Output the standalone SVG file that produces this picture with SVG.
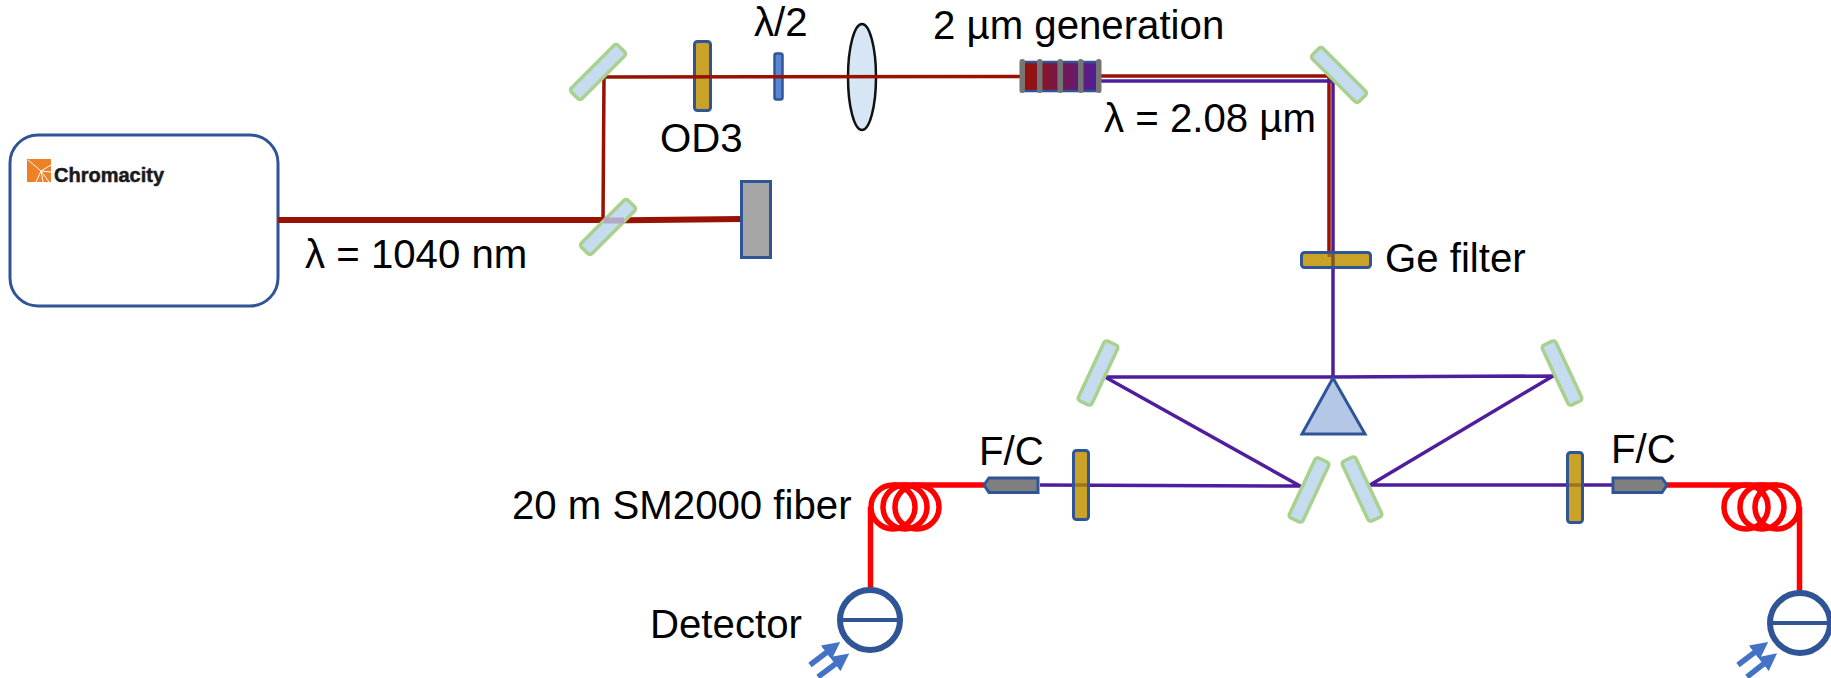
<svg xmlns="http://www.w3.org/2000/svg" width="1831" height="678" viewBox="0 0 1831 678">
<style>
text{font-family:"Liberation Sans",Arial,sans-serif;font-size:40.2px;fill:#000}
.mirror{fill:#C5DCF0;stroke:#A9D18E;stroke-width:3.500}
.filter{fill:#C9A227;stroke:#2F5597;stroke-width:3}
.band{fill:#9A7422}
.coll{fill:#7F7F7F;stroke:#2F5597;stroke-width:3}
.red{fill:none;stroke:#991100;stroke-width:3.500}
.pur{fill:none;stroke:#501E9C;stroke-width:3.500}
.fib{fill:none;stroke:#FF0000;stroke-width:5.500}
.det{fill:#fff;stroke:#2F5597;stroke-width:6}
.ph{stroke:#4472C4;stroke-width:5.500;marker-end:url(#ah)}
</style>
<defs>
<linearGradient id="g"><stop offset="0" stop-color="#9B1000"/><stop offset="1" stop-color="#501E9C"/></linearGradient>
<marker id="ah" viewBox="0 0 10 10" refX="2" refY="5" markerWidth="3.200" markerHeight="3.400" orient="auto"><path d="M0 0L10 5L0 10Z" fill="#4472C4"/></marker>
</defs>
<g id="laser">
<rect x="10" y="135" width="268" height="171" rx="28" fill="#fff" stroke="#2F5597" stroke-width="3"/>
<rect x="27" y="159" width="24" height="23" fill="#EE8027"/>
<path d="M28 160L41 171M51 165L41 171M51 172L41 171M49 182L41 171M43 182L41 171M36 182L41 171" stroke="#fff" stroke-width="1" fill="none"/>
<text x="54" y="182" style="font-size:20px;font-weight:bold;fill:#1a1a1a;stroke:#1a1a1a;stroke-width:.5">Chromacity</text>
</g>
<g id="od3"><rect class="filter" x="694.500" y="41.500" width="16" height="69" rx="3"/></g>
<g id="waveplate"><rect x="774.500" y="53.500" width="8" height="46" rx="2" fill="#5B85D0" stroke="#2F5597" stroke-width="2.500"/></g>
<g id="lens"><ellipse cx="862" cy="77" rx="14" ry="53" fill="#D6E6F5" stroke="#111" stroke-width="2.500"/></g>
<g id="connectors">
<path d="M278 220H603" fill="none" stroke="#991100" stroke-width="6"/>
<path d="M603 220.500L742 219" fill="none" stroke="#991100" stroke-width="6"/>
<path class="red" d="M603 220L604 77L1022 76.500"/>
<path class="red" d="M1100 76H1329V257"/>
<path class="pur" d="M1100 81H1333V378"/>
<path class="pur" d="M1105 377H1333L1553 376L1370 485H1613"/>
<path class="pur" d="M1105 377L1300 486L1040 485"/>
<g class="fib"><path d="M984 485H893"/><circle cx="893" cy="507" r="22"/><circle cx="905" cy="507" r="22"/><circle cx="917" cy="507" r="22"/><path d="M870.500 507V590"/></g>
<g class="fib"><path d="M1667 485H1777"/><circle cx="1746" cy="507" r="22"/><circle cx="1762" cy="507" r="22"/><circle cx="1777" cy="507" r="22"/><path d="M1799.500 507V595"/></g>
</g>
<g id="mirror-1"><rect class="mirror" x="-7.500" y="-33" width="15" height="66" rx="3" transform="translate(598 72) rotate(45)"/></g>
<g id="mirror-2"><rect class="mirror" x="-7.500" y="-33" width="15" height="66" rx="3" transform="translate(608 227) rotate(45)"/><path d="M604 220.500H624" stroke="#B5A8C6" stroke-width="6"/></g>
<g id="dump"><rect x="741.500" y="181.500" width="29" height="76" fill="#A6A6A6" stroke="#2F5597" stroke-width="3"/></g>
<g id="crystal">
<rect x="1022" y="62" width="77" height="29" fill="url(#g)" stroke="#2F5597" stroke-width="2.500"/>
<g fill="#757575"><rect x="1019.500" y="59" width="5.500" height="34" rx="2.500"/><rect x="1037" y="59" width="5.500" height="34" rx="2.500"/><rect x="1057.500" y="59" width="5.500" height="34" rx="2.500"/><rect x="1078" y="59" width="5.500" height="34" rx="2.500"/><rect x="1096" y="59" width="5.500" height="34" rx="2.500"/></g>
</g>
<g id="mirror-3"><rect class="mirror" x="-7.500" y="-33" width="15" height="66" rx="3" transform="translate(1339 75) rotate(-45)"/></g>
<g id="ge-filter"><rect class="filter" x="1301.500" y="252.500" width="69" height="15" rx="3"/><rect x="1327.500" y="254" width="3.500" height="3" fill="#A8641C"/><rect x="1331.250" y="254" width="3.500" height="12" fill="#7A5A2A"/></g>
<g id="prism"><path d="M1333 378L1302 434H1365Z" fill="#B4C7E7" stroke="#2F5597" stroke-width="3"/></g>
<g id="mirror-4"><rect class="mirror" x="-7.500" y="-33" width="15" height="66" rx="3" transform="translate(1098 373) rotate(25)"/></g>
<g id="mirror-5"><rect class="mirror" x="-7.500" y="-33" width="15" height="66" rx="3" transform="translate(1562 373) rotate(-25)"/></g>
<g id="mirror-6"><rect class="mirror" x="-7.500" y="-33" width="15" height="66" rx="3" transform="translate(1309 490) rotate(25)"/></g>
<g id="mirror-7"><rect class="mirror" x="-7.500" y="-33" width="15" height="66" rx="3" transform="translate(1362 489) rotate(-25)"/></g>
<g id="filter-left"><rect class="filter" x="1073.500" y="450.500" width="15" height="69" rx="3"/><rect class="band" x="1075" y="483.300" width="12" height="3.500"/></g>
<g id="filter-right"><rect class="filter" x="1567.500" y="452.500" width="15" height="70" rx="3"/><rect class="band" x="1569" y="483.300" width="12" height="3.500"/></g>
<g id="coll-left"><path class="coll" d="M984 485L989 478H1038V492.500H989Z"/></g>
<g id="coll-right"><path class="coll" d="M1667 485L1662 478H1613V492.500H1662Z"/></g>
<g id="detector-left"><circle class="det" cx="870" cy="620" r="30"/><path d="M840 620H900" stroke="#2F5597" stroke-width="4"/><path class="ph" d="M810 665L829 650.500"/><path class="ph" d="M818 677L838 662"/></g>
<g id="detector-right"><circle class="det" cx="1800" cy="623" r="30"/><path d="M1770 623H1830" stroke="#2F5597" stroke-width="4"/><path class="ph" d="M1738 665L1757 650.500"/><path class="ph" d="M1747 677L1766 662"/></g>
<g id="labels">
<text x="305" y="268">λ = 1040 nm</text>
<text x="660" y="152">OD3</text>
<text x="754" y="36">λ/2</text>
<text x="933" y="39">2 µm generation</text>
<text x="1104" y="132">λ = 2.08 µm</text>
<text x="1385" y="272">Ge filter</text>
<text x="979" y="465">F/C</text>
<text x="1611" y="463">F/C</text>
<text x="512" y="519">20 m SM2000 fiber</text>
<text x="650" y="638">Detector</text>
</g>
</svg>
